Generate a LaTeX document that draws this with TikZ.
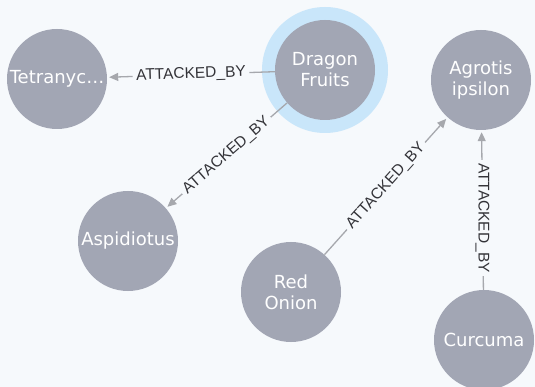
\documentclass[tikz,border=0pt]{standalone}
\usepackage{fontspec}
\setmainfont{DejaVu Sans}
\newfontfamily\relfont{Liberation Sans}
\usetikzlibrary{arrows.meta}
\definecolor{canvas}{HTML}{F6F9FC}
\definecolor{nodegray}{HTML}{A2A6B4}
\definecolor{halo}{HTML}{C9E6FA}
\definecolor{edgegray}{HTML}{A6A8AD}
\definecolor{labelgray}{HTML}{333338}
\tikzset{
  entity/.style={circle, fill=nodegray, minimum size=100pt, inner sep=0pt,
    text=white, align=center, font=\fontsize{18}{21}\selectfont},
  selring/.style={circle, fill=halo, minimum size=126pt, inner sep=0pt},
  rel/.style={draw=edgegray, line width=1.3pt, shorten >=2pt,
    -{Triangle[length=9pt,width=8pt]}},
  rellabel/.style={fill=canvas, inner sep=3.5pt, text=labelgray,
    font=\relfont\fontsize{15.5}{16}\selectfont}
}
\begin{document}
\begin{tikzpicture}[x=1pt, y=-1pt]
  \fill[canvas] (0,0) rectangle (535,387);
  \useasboundingbox (0,0) rectangle (535,387);

  % selection ring behind the highlighted node
  \node[selring] (dragonring) at (325,70) {};

  \node[entity] (tetra)  at (57,79)   {Tetranyc…};
  \node[entity] (dragon) at (325,70)  {Dragon\\Fruits};
  \node[entity] (agrot)  at (481,80)  {Agrotis\\ipsilon};
  \node[entity] (aspid)  at (128,241) {Aspidiotus};
  \node[entity] (onion)  at (291,292) {Red\\Onion};
  \node[entity] (curc)   at (484,340) {Curcuma};

  % relationships
  \draw[rel] (dragon) -- node[rellabel, sloped, midway] {ATTACKED\_BY} (tetra);
  \draw[rel] (dragon) -- node[rellabel, sloped, midway] {ATTACKED\_BY} (aspid);
  \draw[rel] (onion)  -- node[rellabel, sloped, midway] {ATTACKED\_BY} (agrot);
  \draw[rel] (curc)   -- node[rellabel, rotate=-90, pos=0.45] {ATTACKED\_BY} (agrot);
\end{tikzpicture}
\end{document}
